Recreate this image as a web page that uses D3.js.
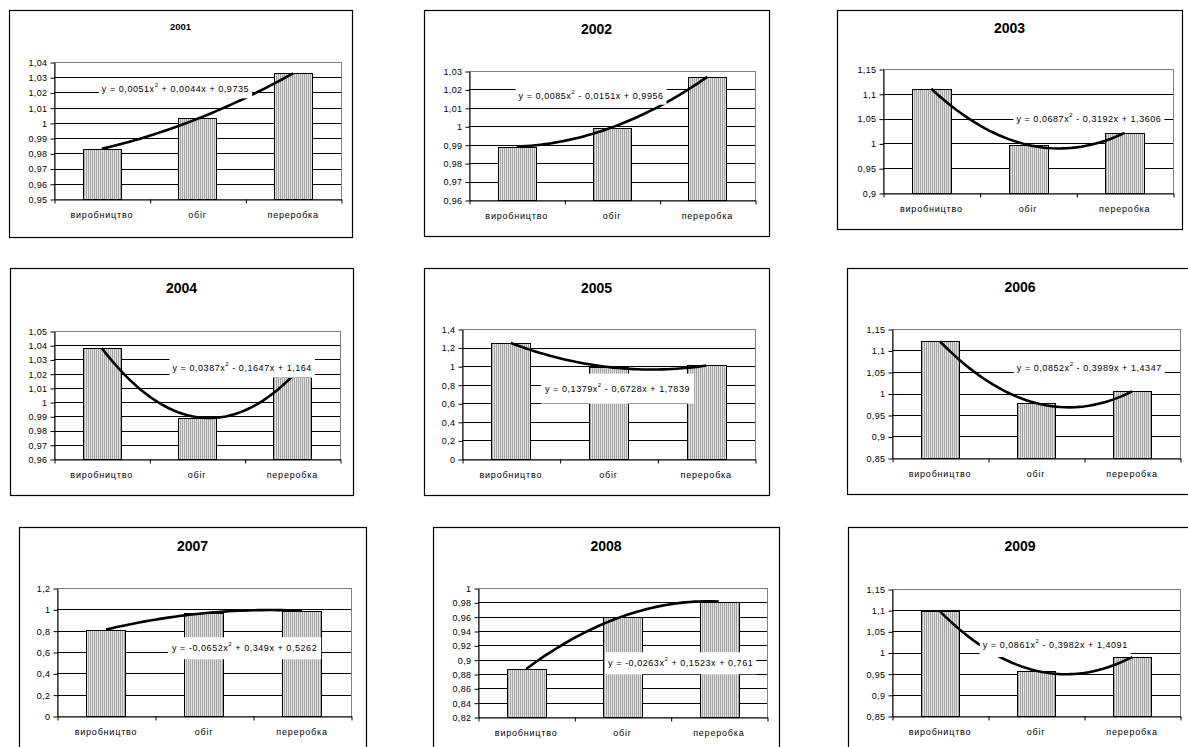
<!DOCTYPE html>
<html>
<head>
<meta charset="utf-8">
<script src="https://cdn.jsdelivr.net/npm/d3@7/dist/d3.min.js"></script>
<style>
  body { margin: 0; background: #fff; }
  svg { display: block; font-family: Arial, "Liberation Sans", sans-serif; }
</style>
</head>
<body>
<script>
var categories = ['виробництво', 'обіг', 'переробка'];
var years = ['2001', '2002', '2003', '2004', '2005', '2006', '2007', '2008', '2009'];

// bar heights
var barValues = [
    [0.983, 1.003, 1.033],
    [0.989, 0.999, 1.027],
    [1.110, 0.997, 1.021],
    [1.038, 0.989, 1.018],
    [1.249, 0.990, 1.007],
    [1.121, 0.978, 1.005],
    [0.810, 0.963, 0.986],
    [0.887, 0.960, 0.981],
    [1.097, 0.957, 0.989]
];

// polynomial trendline y = a x^2 + b x + c, as printed on the charts
var trendA = [0.0051, 0.0085, 0.0687, 0.0387, 0.1379, 0.0852, -0.0652, -0.0263, 0.0861];
var trendB = [0.0044, -0.0151, -0.3192, -0.1647, -0.6728, -0.3989, 0.349, 0.1523, -0.3982];
var trendC = [0.9735, 0.9956, 1.3606, 1.164, 1.7839, 1.4347, 0.5262, 0.761, 1.4091];

var yTicks = [
    [0.95, 0.96, 0.97, 0.98, 0.99, 1, 1.01, 1.02, 1.03, 1.04],
    [0.96, 0.97, 0.98, 0.99, 1, 1.01, 1.02, 1.03],
    [0.9, 0.95, 1, 1.05, 1.1, 1.15],
    [0.96, 0.97, 0.98, 0.99, 1, 1.01, 1.02, 1.03, 1.04, 1.05],
    [0, 0.2, 0.4, 0.6, 0.8, 1, 1.2, 1.4],
    [0.85, 0.9, 0.95, 1, 1.05, 1.1, 1.15],
    [0, 0.2, 0.4, 0.6, 0.8, 1, 1.2],
    [0.82, 0.84, 0.86, 0.88, 0.9, 0.92, 0.94, 0.96, 0.98, 1],
    [0.85, 0.9, 0.95, 1, 1.05, 1.1, 1.15]
];

// page layout: frame box, plot box, title, equation label anchor (in x-units / y-values)
var panels = [
    {frame: [9, 10, 352, 237],    plot: [54, 62, 341, 199],    titleY: 26,  titleSize: 9.5, label: [1.00, 1.022], pad: [3, 4]},
    {frame: [424, 10, 769, 236],  plot: [469, 71, 755, 200],   titleY: 29,  titleSize: 14, label: [1.02, 1.0166], pad: [3, 4]},
    {frame: [837, 10, 1182, 229], plot: [883, 69, 1173, 193],  titleY: 28,  titleSize: 14, label: [1.88, 1.049], pad: [3, 4]},
    {frame: [10, 268, 353, 495],  plot: [54, 331, 340, 459],   titleY: 288, titleSize: 14, label: [1.743, 1.0242], pad: [3, 5]},
    {frame: [424, 268, 769, 495], plot: [462, 329, 755, 459],  titleY: 288, titleSize: 14, label: [1.35, 0.758], pad: [4, 10]},
    {frame: [847, 268, 1193, 494], plot: [892, 329, 1180, 458], titleY: 287, titleSize: 14, label: [1.80, 1.0584], pad: [3, 3]},
    {frame: [19, 527, 366, 760],  plot: [57, 588, 351, 716],   titleY: 546, titleSize: 14, label: [1.673, 0.635], pad: [4, 6]},
    {frame: [433, 527, 779, 760], plot: [478, 588, 767, 717],  titleY: 546, titleSize: 14, label: [1.85, 0.895], pad: [3, 6]},
    {frame: [848, 527, 1192, 760], plot: [892, 589, 1180, 716], titleY: 546, titleSize: 14, label: [1.445, 1.0177], pad: [3, 7]}
];

var locale = d3.formatLocale({decimal: ',', thousands: ' ', grouping: [3], currency: ['', ''], minus: '-'});
var tickFmt = locale.format('.2~f');
var coefFmt = locale.format('.4~f');

var svg = d3.select('body').append('svg')
    .attr('width', 1188)
    .attr('height', 747);

var pattern = svg.append('defs').append('pattern')
    .attr('id', 'stripes')
    .attr('patternUnits', 'userSpaceOnUse')
    .attr('width', 2)
    .attr('height', 4);
pattern.append('rect').attr('width', 2).attr('height', 4).attr('fill', '#e2e2e2');
pattern.append('rect').attr('width', 1).attr('height', 4).attr('fill', '#a4a4a4');

function drawPanel(i) {
    var p = panels[i];
    var L = p.plot[0], T = p.plot[1], R = p.plot[2], B = p.plot[3];
    var ticks = yTicks[i];
    var g = svg.append('g');

    g.append('rect')
        .attr('x', p.frame[0] + 0.5).attr('y', p.frame[1] + 0.5)
        .attr('width', p.frame[2] - p.frame[0]).attr('height', p.frame[3] - p.frame[1])
        .attr('fill', '#fff').attr('stroke', '#000').attr('stroke-width', 1.2);

    g.append('text')
        .attr('x', (p.frame[0] + p.frame[2]) / 2).attr('y', p.titleY)
        .attr('text-anchor', 'middle').attr('dominant-baseline', 'central')
        .attr('font-size', p.titleSize).attr('font-weight', 'bold')
        .text(years[i]);

    var x = d3.scaleBand().domain(categories).range([L, R]).paddingInner(0.6).paddingOuter(0.3);
    var xt = d3.scaleLinear().domain([0.5, 3.5]).range([L, R]);
    var y = d3.scaleLinear().domain([ticks[0], ticks[ticks.length - 1]]).range([B, T]);

    g.append('rect')
        .attr('x', L + 0.5).attr('y', T + 0.5)
        .attr('width', R - L).attr('height', B - T)
        .attr('fill', 'none').attr('stroke', '#808080');

    g.selectAll('line.grid').data(ticks.slice(1, -1)).enter().append('line')
        .attr('class', 'grid')
        .attr('x1', L).attr('x2', R)
        .attr('y1', function(d) { return Math.round(y(d)) + 0.5; })
        .attr('y2', function(d) { return Math.round(y(d)) + 0.5; })
        .attr('stroke', '#000');

    g.selectAll('rect.bar').data(barValues[i]).enter().append('rect')
        .attr('class', 'bar')
        .attr('x', function(d, k) { return Math.round(x(categories[k])) + 0.5; })
        .attr('y', function(d) { return Math.round(y(d)) + 0.5; })
        .attr('width', Math.round(x.bandwidth()))
        .attr('height', function(d) { return Math.round(B - y(d)); })
        .attr('fill', 'url(#stripes)').attr('stroke', '#000');

    var yAxis = g.append('g')
        .attr('transform', 'translate(' + (L + 0.5) + ',0.5)')
        .call(d3.axisLeft(y).tickValues(ticks).tickFormat(tickFmt).tickSize(4).tickSizeOuter(0).tickPadding(3));
    var xAxis = g.append('g')
        .attr('transform', 'translate(0.5,' + (B + 0.5) + ')')
        .call(d3.axisBottom(xt).tickValues([0.5, 1.5, 2.5, 3.5]).tickFormat('').tickSize(4).tickSizeOuter(0));
    [yAxis, xAxis].forEach(function(ax) {
        ax.selectAll('path, line').attr('stroke', '#000');
        ax.selectAll('text')
            .attr('font-size', 9).attr('fill', '#000')
            .attr('font-family', 'Arial, "Liberation Sans", sans-serif')
            .style('letter-spacing', '0.4px');
    });

    g.selectAll('text.cat').data(categories).enter().append('text')
        .attr('class', 'cat')
        .attr('x', function(d) { return x(d) + x.bandwidth() / 2; })
        .attr('y', B + 16)
        .attr('text-anchor', 'middle').attr('dominant-baseline', 'central')
        .attr('font-size', 9)
        .style('letter-spacing', '0.8px')
        .text(function(d) { return d; });

    var a = trendA[i], b = trendB[i], c = trendC[i];
    var curve = d3.range(1, 3.0001, 0.05).map(function(t) { return [t, a * t * t + b * t + c]; });
    g.append('path')
        .attr('d', d3.line()
            .x(function(d) { return xt(d[0]); })
            .y(function(d) { return y(d[1]); })(curve))
        .attr('fill', 'none').attr('stroke', '#000').attr('stroke-width', 2.6);

    var label = g.append('g');
    var txt = label.append('text')
        .attr('x', xt(p.label[0])).attr('y', y(p.label[1]))
        .attr('dominant-baseline', 'central')
        .attr('font-size', 9)
        .style('letter-spacing', '0.55px');
    txt.append('tspan').text('y = ' + coefFmt(a) + 'x');
    txt.append('tspan').attr('dy', -4).attr('font-size', 6).text('2');
    txt.append('tspan').attr('dy', 4)
        .text(' ' + (b < 0 ? '-' : '+') + ' ' + coefFmt(Math.abs(b)) + 'x ' + (c < 0 ? '-' : '+') + ' ' + coefFmt(Math.abs(c)));
    var bb = txt.node().getBBox();
    var cy = y(p.label[1]);
    label.insert('rect', 'text')
        .attr('x', bb.x - p.pad[0]).attr('y', cy - 5 - p.pad[1])
        .attr('width', bb.width + 2 * p.pad[0]).attr('height', 10 + 2 * p.pad[1])
        .attr('fill', '#fff');
}

for (var i = 0; i < years.length; i++) {
    drawPanel(i);
}
</script>
</body>
</html>
